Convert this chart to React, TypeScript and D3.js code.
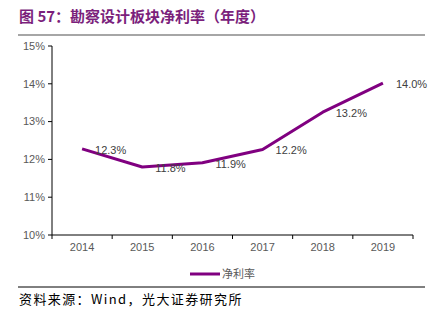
import React from "react";
import * as d3 from "d3";

const years = ["2014", "2015", "2016", "2017", "2018", "2019"];
const netMargin = [12.28, 11.8, 11.91, 12.26, 13.25, 14.02];
const valueLabels = ["12.3%", "11.8%", "11.9%", "12.2%", "13.2%", "14.0%"];
const yTicks = [10, 11, 12, 13, 14, 15];
const seriesName = "净利率";
const title = "图 57：勘察设计板块净利率（年度）";
const source = "资料来源：Wind，光大证券研究所";

const W = 435;
const H = 326;
const left = 52;
const right = 413;
const top = 46;
const bottom = 235;
const purple = "#800080";
const font = "Arial, 'Liberation Sans', 'Noto Sans CJK SC', sans-serif";

export default function App() {
  const x = d3.scaleBand().domain(years).range([left, right]);
  const y = d3.scaleLinear().domain([10, 15]).range([bottom, top]);
  const line = d3
    .line<number>()
    .x((_, i) => (x(years[i]) as number) + x.bandwidth() / 2)
    .y((d) => y(d));

  return (
    <svg
      width={W}
      height={H}
      style={{ position: "absolute", left: 0, top: 0, background: "#fff" }}
      fontFamily={font}
    >
      <text x={19} y={22} fontSize={15} fontWeight="bold" fill="#7B1F7C" fontFamily="'Noto Sans CJK SC', sans-serif">
        {title}
      </text>
      <line x1={18} x2={425} y1={35} y2={35} stroke="#888" strokeWidth={1.5} />

      {/* y axis */}
      <line x1={left} x2={left} y1={top} y2={bottom} stroke="#000" strokeWidth={1} />
      {yTicks.map((t) => (
        <g key={t}>
          <line x1={left - 4} x2={left} y1={y(t)} y2={y(t)} stroke="#000" />
          <text x={left - 7} y={y(t)} dy="0.35em" textAnchor="end" fontSize={11} fill="#595959">
            {t}%
          </text>
        </g>
      ))}

      {/* x axis */}
      <line x1={left} x2={right} y1={bottom} y2={bottom} stroke="#000" strokeWidth={1} />
      {[...years.map((yr) => x(yr) as number), right].map((px, i) => (
        <line key={i} x1={px} x2={px} y1={bottom} y2={bottom + 4} stroke="#000" />
      ))}
      {years.map((yr) => (
        <text
          key={yr}
          x={(x(yr) as number) + x.bandwidth() / 2}
          y={bottom + 16}
          textAnchor="middle"
          fontSize={11}
          fill="#595959"
        >
          {yr}
        </text>
      ))}

      <path d={line(netMargin) || ""} fill="none" stroke={purple} strokeWidth={3} strokeLinejoin="round" />

      {netMargin.map((v, i) => (
        <text
          key={i}
          x={(x(years[i]) as number) + x.bandwidth() / 2 + 13}
          y={y(v) + 1}
          dy="0.35em"
          fontSize={11}
          fill="#404040"
        >
          {valueLabels[i]}
        </text>
      ))}

      {/* legend */}
      <line x1={190} x2={220} y1={274} y2={274} stroke={purple} strokeWidth={3} />
      <text x={222} y={274} dy="0.35em" fontSize={11} fill="#595959" fontFamily="'Noto Sans CJK SC', sans-serif">
        {seriesName}
      </text>

      <line x1={18} x2={425} y1={287} y2={287} stroke="#000" strokeWidth={1} />
      <text x={19} y={304} fontSize={13} letterSpacing={1.4} fill="#000" fontFamily="'Noto Sans CJK SC', sans-serif">
        {source}
      </text>
    </svg>
  );
}
